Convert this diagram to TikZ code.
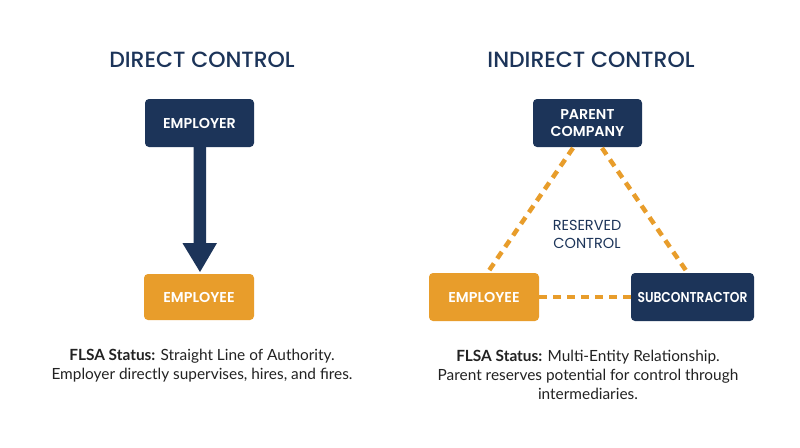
\documentclass[tikz,border=0pt]{standalone}
\usepackage{graphicx}
\usepackage{fontspec}
\setmainfont{Lato}
\newfontfamily\headfont{Poppins}[UprightFont=* Medium, BoldFont=* SemiBold]
\newfontfamily\regfont{Poppins}
\definecolor{navy}{HTML}{1C3459}
\definecolor{gold}{HTML}{E89D2B}
\definecolor{bodyc}{HTML}{222222}
\begin{document}
\begin{tikzpicture}[x=1pt,y=-1pt,
  title/.style={font=\headfont\fontsize{22}{26}\selectfont, text=navy, inner sep=0},
  boxn/.style={fill=navy, rounded corners=4pt, text=white, font=\headfont\bfseries\fontsize{14.3}{17.5}\selectfont, align=center, inner sep=0},
  boxo/.style={fill=gold, rounded corners=4pt, text=white, font=\headfont\bfseries\fontsize{14.3}{17.5}\selectfont, align=center, inner sep=0},
  dline/.style={draw=gold, line width=4.5pt, dash pattern=on 8pt off 6pt},
  body/.style={font=\fontsize{15.4}{19}\selectfont, text=bodyc, align=center, inner sep=0}
]
\useasboundingbox (0,0) rectangle (800,447);
\fill[white] (0,0) rectangle (800,447);
\node[title] (t1) at (202,60) {DIRECT CONTROL};
\node[title] (t2) at (591,60) {INDIRECT CONTROL};
\node[boxn, minimum width=109pt, minimum height=48pt] (er) at (199.5,123) {EMPLOYER};
\node[boxo, minimum width=110pt, minimum height=46pt] (ee) at (199,297) {EMPLOYEE};
\coordinate (tip) at (200,272);
\fill[navy] (er.south) ++(-6,0) -- ++(0,96) -- ++(-11,0) -- (tip) -- ++(17,-29) -- ++(-11,0) -- ++(0,-96) -- cycle;
\node[boxn, minimum width=109pt, minimum height=48pt] (pc) at (587.5,123) {PARENT\\COMPANY};
\node[boxo, minimum width=110pt, minimum height=48pt] (ie) at (484,297) {EMPLOYEE};
\node[boxn, minimum width=123pt, minimum height=48pt] (sc) at (692.5,297) {\scalebox{0.86}[1]{SUBCONTRACTOR}};
\coordinate (p1) at (573,148);
\coordinate (p2) at (488,272);
\coordinate (p3) at (602,148);
\coordinate (p4) at (687,272);
\draw[dline] (p1) -- (p2);
\draw[dline] (p3) -- (p4);
\draw[dline] (ie.east) -- (sc.west);
\node[font=\regfont\fontsize{14.5}{18}\selectfont, text=navy, align=center, inner sep=0] (rc) at (587,234) {RESERVED\\CONTROL};
\node[body] (b1) at (202,366) {\textbf{FLSA Status:} Straight Line of Authority.\\Employer directly supervises, hires, and fires.};
\node[body] (b2) at (588,375) {\textbf{FLSA Status:} Multi-Entity Relationship.\\Parent reserves potential for control through\\intermediaries.};
\end{tikzpicture}
\end{document}
